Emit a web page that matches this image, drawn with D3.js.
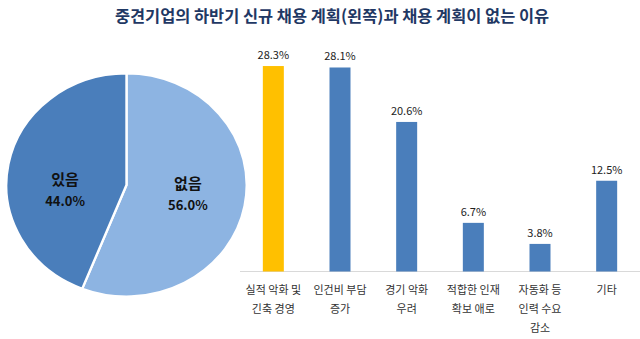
<!DOCTYPE html>
<html>
<head>
<meta charset="utf-8">
<script src="https://cdn.jsdelivr.net/npm/d3@7"></script>
<style>
  html, body { margin: 0; padding: 0; background: #fff; }
  svg { display: block; font-family: "Noto Sans CJK KR", "Noto Sans", sans-serif; }
</style>
</head>
<body>
<svg id="chart" width="640" height="339"></svg>
<script>
// Share of mid-sized firms with hiring plans for the second half
const pieLabels = ["없음", "있음"];
const pieValues = [56.0, 44.0];

// Reasons for having no hiring plan
const reasons = [
  ["실적 악화 및", "긴축 경영"],
  ["인건비 부담", "증가"],
  ["경기 악화", "우려"],
  ["적합한 인재", "확보 애로"],
  ["자동화 등", "인력 수요", "감소"],
  ["기타"]
];
const reasonValues = [28.3, 28.1, 20.6, 6.7, 3.8, 12.5];

const titleText = "중견기업의 하반기 신규 채용 계획(왼쪽)과 채용 계획이 없는 이유";

const svg = d3.select("#chart");

svg.append("text")
  .attr("x", 332).attr("y", 22)
  .attr("text-anchor", "middle")
  .attr("font-size", 16.4).attr("font-weight", 700)
  .attr("fill", "#1f3864")
  .text(titleText);

// ---- Pie ----
const cx = 126.5, cy = 185, r = 111.5, sx = 1.078;
const pieColors = ["#8db4e2", "#4a7ebb"];
const pieG = svg.append("g").attr("transform", `translate(${cx},${cy}) scale(${sx},1)`);
const pie = d3.pie().sort(null).value(d => d)(pieValues);
const arc = d3.arc().innerRadius(0).outerRadius(r);
pieG.selectAll("path").data(pie).join("path")
  .attr("d", arc)
  .attr("fill", (d, i) => pieColors[i])
  .attr("stroke", "#fff").attr("stroke-width", 2.2);

const labelArc = d3.arc().innerRadius(58).outerRadius(58);
const pieLabelG = svg.append("g");
pie.forEach((d, i) => {
  const c = labelArc.centroid(d);
  const x = cx + c[0] * sx;
  const y = cy + 8 + 0.2 * c[1];
  pieLabelG.append("text")
    .attr("x", x).attr("y", y - 6)
    .attr("text-anchor", "middle")
    .attr("font-size", 15).attr("font-weight", 700).attr("fill", "#111")
    .text(pieLabels[i]);
  pieLabelG.append("text")
    .attr("x", x).attr("y", y + 15)
    .attr("text-anchor", "middle")
    .attr("font-size", 13).attr("font-weight", 700).attr("fill", "#111")
    .text(pieValues[i].toFixed(1) + "%");
});

// ---- Bars ----
const x = d3.scaleBand()
  .domain(d3.range(reasonValues.length))
  .range([240, 640])
  .paddingInner(0.685).paddingOuter(0.3425);
const y = d3.scaleLinear().domain([0, 30]).range([271.5, 53.7]);

svg.append("line")
  .attr("x1", 240).attr("x2", 640)
  .attr("y1", y(0)).attr("y2", y(0))
  .attr("stroke", "#d9d9d9").attr("stroke-width", 1);

const barColors = reasonValues.map((v, i) => i === 0 ? "#ffc000" : "#4a7ebb");
svg.append("g").selectAll("rect").data(reasonValues).join("rect")
  .attr("x", (d, i) => x(i))
  .attr("y", d => y(d))
  .attr("width", x.bandwidth())
  .attr("height", d => y(0) - y(d))
  .attr("fill", (d, i) => barColors[i]);

svg.append("g").selectAll("text").data(reasonValues).join("text")
  .attr("x", (d, i) => x(i) + x.bandwidth() / 2)
  .attr("y", d => y(d) - 7)
  .attr("text-anchor", "middle")
  .attr("font-size", 11).attr("fill", "#222")
  .text(d => d.toFixed(1) + "%");

const catG = svg.append("g");
reasons.forEach((lines, i) => {
  const t = catG.append("text")
    .attr("text-anchor", "middle")
    .attr("font-size", 11).attr("fill", "#333");
  lines.forEach((ln, j) => {
    t.append("tspan")
      .attr("x", x(i) + x.bandwidth() / 2)
      .attr("y", 294 + j * 19)
      .text(ln);
  });
});
</script>
</body>
</html>
